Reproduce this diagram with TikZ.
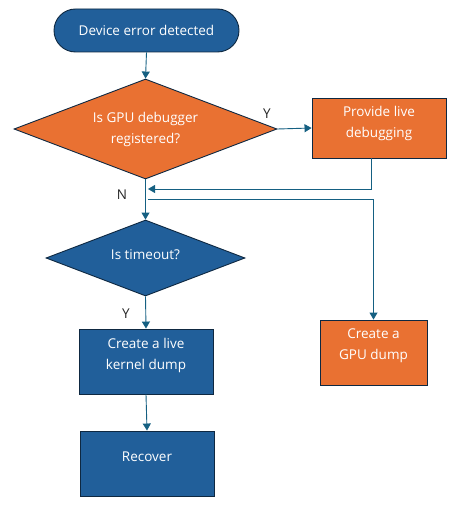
\documentclass[tikz,border=0pt]{standalone}
\usepackage{fontspec}
\setmainfont{Open Sans}
\usetikzlibrary{shapes.geometric,arrows.meta}
\definecolor{cblue}{HTML}{215F9A}
\definecolor{corange}{HTML}{E97132}
\definecolor{cline}{HTML}{156082}
\definecolor{cedge}{HTML}{0E2841}
\tikzset{
  shp/.style={draw=cedge, line width=0.9pt, inner sep=0pt, text=white, font=\fontsize{13.5}{21}\selectfont, align=center},
  boxb/.style={shp, rectangle, fill=cblue, minimum width=134, minimum height=65},
  boxo/.style={shp, rectangle, fill=corange},
  dia/.style={shp, diamond},
  txt/.style={text=white, font=\fontsize{13.5}{21}\selectfont, align=center, inner sep=0pt},
  lbl/.style={text=black!85, font=\fontsize{13.5}{15}\selectfont, inner sep=0pt},
  conn/.style={draw=cline, line width=0.9pt, -{Triangle[width=8pt,length=7pt]}},
  seg/.style={draw=cline, line width=0.9pt}
}
\begin{document}
\begin{tikzpicture}[x=1pt,y=-1pt]
\useasboundingbox (0,0) rectangle (462,508);
% nodes
\node[shp, rectangle, rounded corners=21.5, fill=cblue, minimum width=185, minimum height=43] (start) at (146.5,30.5) {Device error detected};
\node[dia, fill=corange, minimum width=263, minimum height=100] (d1) at (145.5,129) {};
\node[txt] (d1t) at (145.5,129) {Is GPU debugger\\registered?};
\node[boxo, minimum width=134, minimum height=60] (pl) at (379,128) {};
\node[txt] (plt) at (379,123.5) {Provide live\\debugging};
\node[dia, fill=cblue, minimum width=199, minimum height=76] (d2) at (145.5,258) {};
\node[txt] (d2t) at (145.5,255) {Is timeout?};
\node[boxb] (kd) at (146,361.5) {};
\node[txt] (kdt) at (146,355) {Create a live\\kernel dump};
\node[boxb] (rc) at (147,463.5) {};
\node[txt] (rct) at (147,456.5) {Recover};
\node[boxo, minimum width=107, minimum height=65] (gd) at (373.5,352.5) {};
\node[txt] (gdt) at (373.5,346) {Create a\\GPU dump};
% labels
\node[lbl] (ly1) at (267,113.5) {Y};
\node[lbl] (ln) at (122,194.5) {N};
\node[lbl] (ly2) at (126,313.5) {Y};
% connector coordinates
\coordinate (plb) at (371,158);
\coordinate (plc) at (371,189);
\coordinate (mrg) at (148,189);
\coordinate (spl) at (148,199);
% connectors
\draw[conn] (start.south) -- (d1.north);
\draw[conn] (d1.east) -- (pl.west);
\draw[conn] (plb) -- (plc) -- (mrg);
\draw[conn] (d1.south) -- (d2.north);
\draw[conn] (spl) -| (gd.north);
\draw[conn] (d2.south) -- (kd.north);
\draw[conn] (kd.south) -- (rc.north);
\end{tikzpicture}
\end{document}
